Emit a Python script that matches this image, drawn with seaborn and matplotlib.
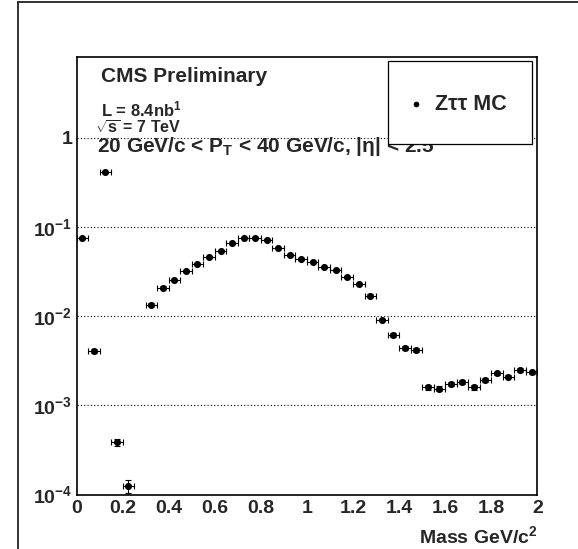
import numpy as np
import pandas as pd
import seaborn as sns
import matplotlib.pyplot as plt
from matplotlib.patches import Rectangle
from matplotlib.lines import Line2D
from matplotlib.ticker import MultipleLocator, LogLocator, NullFormatter

# bin centres (GeV/c^2) and normalised counts
mass = [0.025, 0.075, 0.125, 0.175, 0.225, 0.325, 0.375, 0.425, 0.475, 0.525,
        0.575, 0.625, 0.675, 0.725, 0.775, 0.825, 0.875, 0.925, 0.975, 1.025,
        1.075, 1.125, 1.175, 1.225, 1.275, 1.325, 1.375, 1.425, 1.475, 1.525,
        1.575, 1.625, 1.675, 1.725, 1.775, 1.825, 1.875, 1.925, 1.975]
counts = [0.076, 0.0041, 0.408, 3.84e-4, 1.25e-4, 0.0134, 0.0209, 0.0257, 0.0322, 0.0382,
          0.0458, 0.0543, 0.0658, 0.076, 0.0755, 0.0722, 0.0587, 0.0486, 0.0435, 0.0409,
          0.0353, 0.0330, 0.0275, 0.0230, 0.0170, 0.00906, 0.0061, 0.0044, 0.00418, 0.00159,
          0.00154, 0.00173, 0.00184, 0.00159, 0.00191, 0.00229, 0.0021, 0.00249, 0.00235]
counts_err = [0.002, 0.0002, 0.01, 3e-5, 2.2e-5, 0.0005, 0.0006, 0.0007, 0.0008, 0.0008,
              0.0009, 0.001, 0.001, 0.0011, 0.0011, 0.0011, 0.001, 0.0009, 0.0009, 0.0009,
              0.0008, 0.0008, 0.0007, 0.0006, 0.0005, 0.0003, 0.0003, 0.0002, 0.0002, 0.0001,
              0.0001, 0.0001, 0.0001, 0.0001, 0.0001, 0.0001, 0.0001, 0.0001, 0.0001]
bin_half = 0.025

xticks = [0, 0.2, 0.4, 0.6, 0.8, 1.0, 1.2, 1.4, 1.6, 1.8, 2.0]
xtick_labels = ['0', '0.2', '0.4', '0.6', '0.8', '1', '1.2', '1.4', '1.6', '1.8', '2']
yticks = [1e-4, 1e-3, 1e-2, 1e-1, 1]
ytick_labels = ['$10^{-4}$', '$10^{-3}$', '$10^{-2}$', '$10^{-1}$', '1']

df = pd.DataFrame({'mass': mass, 'counts': counts, 'err': counts_err})

sns.set_style('white')
plt.rcParams['font.family'] = ['Liberation Sans', 'DejaVu Sans']
plt.rcParams['font.weight'] = 'bold'
plt.rcParams['mathtext.fontset'] = 'custom'
plt.rcParams['mathtext.rm'] = 'Liberation Sans:bold'
plt.rcParams['mathtext.it'] = 'Liberation Sans:bold'
plt.rcParams['mathtext.bf'] = 'Liberation Sans:bold'

W, H = 578, 549
fig = plt.figure(figsize=(W / 100, H / 100), dpi=100)
ax = fig.add_axes([76.5 / W, 1 - 494.5 / H, (537.3 - 76.5) / W, (494.5 - 56.7) / H])

# error bars then the points
ax.errorbar(df['mass'], df['counts'], xerr=bin_half, yerr=df['err'], fmt='none',
            ecolor='black', elinewidth=0.8, capsize=2.2, capthick=0.8, zorder=2)
sns.scatterplot(data=df, x='mass', y='counts', ax=ax, color='black', s=26,
                edgecolor='black', linewidth=0, label='Zττ MC', zorder=3)

ax.set_yscale('log')
ax.set_xlim(0, 2)
ax.set_ylim(1e-4, 8.1)

ax.xaxis.set_major_locator(MultipleLocator(0.2))
ax.xaxis.set_minor_locator(MultipleLocator(0.05))
ax.set_xticks(xticks)
ax.set_xticklabels(xtick_labels)
ax.set_yticks(yticks)
ax.set_yticklabels(ytick_labels)
ax.yaxis.set_minor_locator(LogLocator(base=10, subs=np.arange(2, 10)))
ax.yaxis.set_minor_formatter(NullFormatter())

ax.tick_params(which='major', direction='in', length=9.5, width=0.8,
               top=False, right=False, labelsize=14, pad=4)
ax.tick_params(which='minor', direction='in', length=5, width=0.8,
               top=False, right=False)
ax.tick_params(axis='y', pad=3)

ax.grid(axis='y', which='major', color='black', linestyle=(0, (1, 2)), linewidth=0.8)
ax.grid(axis='x', visible=False)
for sp in ax.spines.values():
    sp.set_color('black')
    sp.set_linewidth(1.2)

ax.set_ylabel('')
ax.set_xlabel('Mass GeV/c$^{2}$', loc='right', fontsize=14, fontweight='bold', labelpad=6)

# header text
def fy(y):
    return 1 - y / H

fig.text(100.7 / W, fy(81.7), 'CMS Preliminary', fontsize=15, fontweight='bold',
         va='baseline', zorder=3)
fig.text(100.7 / W, fy(116.5), 'L = 8.4nb$^{1}$', fontsize=12, fontweight='bold',
         va='baseline', zorder=3)
fig.text(95 / W, fy(134), r'$\sqrt{s}$ = 7 TeV', fontsize=11.5, fontweight='bold',
         va='baseline', zorder=3)
fig.text(96.7 / W, fy(152.5), '20 GeV/c < $P_T$ < 40 GeV/c, |η| < 2.5', fontsize=15,
         fontweight='bold', va='baseline', zorder=3)

# legend box drawn over the text, like the original
handles, labels = ax.get_legend_handles_labels()
ax.get_legend().remove()
fig.add_artist(Rectangle((387.7 / W, fy(144)), (531.7 - 387.7) / W, (144 - 61) / H,
                         transform=fig.transFigure, facecolor='white',
                         edgecolor='black', linewidth=0.9, zorder=4))
leg = fig.legend(handles, labels, loc='center left', bbox_to_anchor=(392 / W, fy(104)),
                 frameon=False, fontsize=15.5, handletextpad=0.3, handlelength=1.2,
                 markerscale=0.8, borderpad=0)
leg.set_zorder(5)
for t in leg.get_texts():
    t.set_fontweight('bold')

# canvas border
fig.add_artist(Line2D([17.7 / W, 17.7 / W], [0, fy(1.7)], transform=fig.transFigure,
                      color='#222222', linewidth=1.3))
fig.add_artist(Line2D([17.7 / W, 1], [fy(1.7), fy(1.7)], transform=fig.transFigure,
                      color='#222222', linewidth=1.3))

fig.savefig('out.png', dpi=100)
